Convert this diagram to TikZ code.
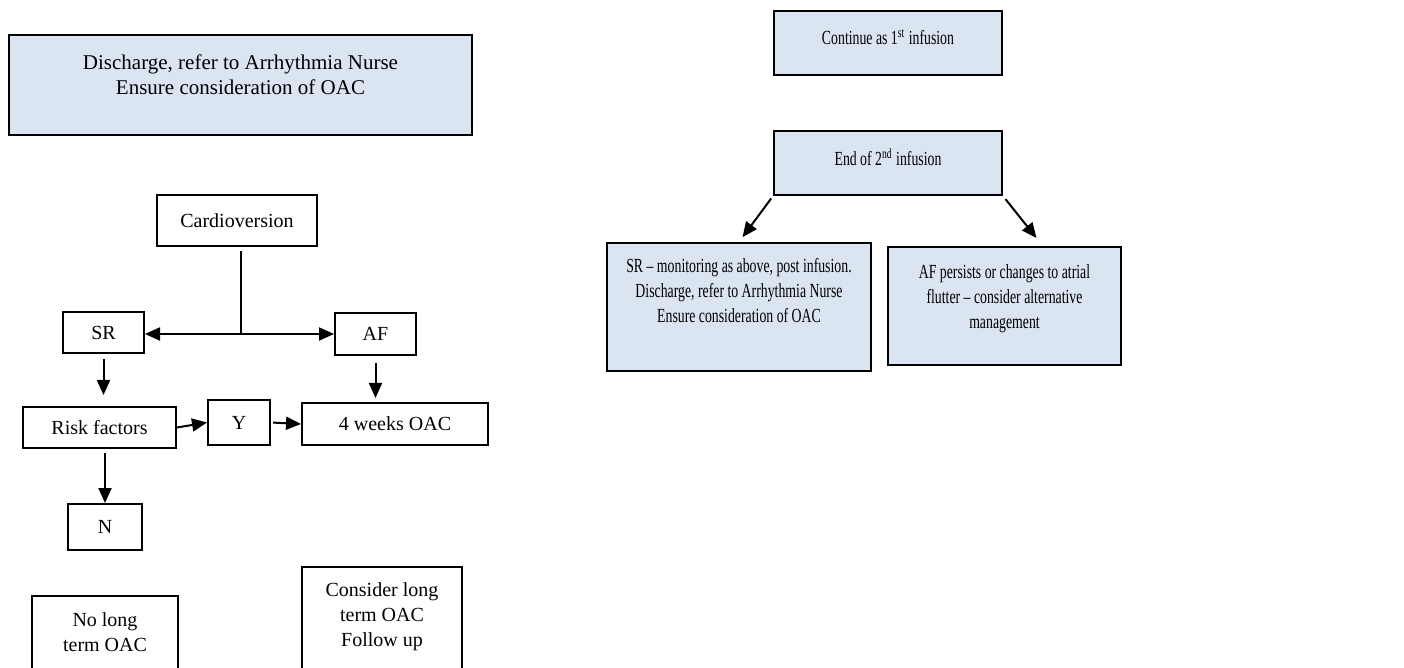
\documentclass[tikz,border=0pt]{standalone}
\usepackage{fontspec}
\setmainfont{Liberation Serif}
\newfontfamily\narrowserif[Ligatures=TeX,FakeStretch=0.69]{Liberation Serif}
\usetikzlibrary{arrows.meta}
\definecolor{boxfill}{RGB}{219,229,241}
\tikzset{
  box/.style={draw, line width=1pt, align=center, inner sep=2pt, font=\fontsize{10}{12.5}\selectfont},
  blue box/.style={box, fill=boxfill},
  narrow/.style={font=\narrowserif\fontsize{10}{12.5}\selectfont},
  sz/.style 2 args={minimum width=#1*0.5pt, minimum height=#2*0.5pt},
  arr/.style={line width=1pt, -{Triangle[length=7.5pt,width=6.5pt]}}
}
\begin{document}
\begin{tikzpicture}[x=0.5pt,y=-0.5pt]
   \useasboundingbox (0,0) rectangle (1404,668);
   \clip (0,0) rectangle (1404,668);
   \node[blue box, sz={463}{100}, font=\fontsize{10.5}{12.5}\selectfont] (dis) at (240.5,85) {Discharge, refer to Arrhythmia Nurse\\Ensure consideration of OAC\\[-2.5pt]};
   \node[blue box, narrow, sz={228}{64}] (cont) at (888,43) {Continue as 1\textsuperscript{st} infusion\\[-6.5pt]};
   \node[blue box, narrow, sz={228}{64}] (end) at (888,163) {End of 2\textsuperscript{nd} infusion\\[-6.5pt]};
   \node[blue box, narrow, sz={264}{128}] (srmon) at (739,307) {SR -- monitoring as above, post infusion.\\Discharge, refer to Arrhythmia Nurse\\Ensure consideration of OAC\\[4.5pt]};
   \node[blue box, narrow, sz={233}{118}] (afp) at (1004.5,306) {AF persists or changes to atrial\\flutter -- consider alternative\\management\\[-3.5pt]};
   \node[box, sz={160}{51}] (cardio) at (237,220.5) {Cardioversion};
   \node[box, sz={81}{41}] (sr) at (103.5,332.5) {SR};
   \node[box, sz={81}{42}] (af) at (375.5,334) {AF};
   \node[box, sz={153}{41}] (risk) at (99.5,427.5) {Risk factors};
   \node[box, sz={62}{45}] (y) at (239,422.5) {Y};
   \node[box, sz={186}{42}] (weeks) at (395,424) {4 weeks OAC};
   \node[box, sz={74}{46}] (n) at (105,527) {N};
   \node[box, sz={146}{120}] (nolong) at (105,656) {No long\\term OAC\\[11.5pt]};
   \node[box, sz={160}{149}] (cons) at (382,641.5) {Consider long\\term OAC\\Follow up\\[14pt]};
   \coordinate (split) at (241,334);
   \draw[line width=1pt, shorten <=2pt] (cardio.south -| split) -- (split);
   \draw[arr] (split) -- (split -| sr.east);
   \draw[arr] (split) -- (split -| af.west);
   \draw[arr, shorten <=2.5pt, shorten >=5.5pt] (sr.south) -- (sr.south |- risk.north);
   \draw[arr, shorten <=3.5pt, shorten >=2pt] (af.south) -- (af.south |- weeks.north);
   \draw[arr] (risk.east) -- (y.west);
   \draw[arr, shorten <=1pt] (y.east) -- (weeks.west);
   \draw[arr, shorten <=2pt] (n.north |- risk.south) -- (n.north);
   \draw[arr, shorten <=1.5pt, shorten >=3pt] (end.south west) -- (srmon.north);
   \draw[arr, shorten <=2pt] (end.south east) -- ([shift={(32,-8)}]afp.north);
\end{tikzpicture}
\end{document}
